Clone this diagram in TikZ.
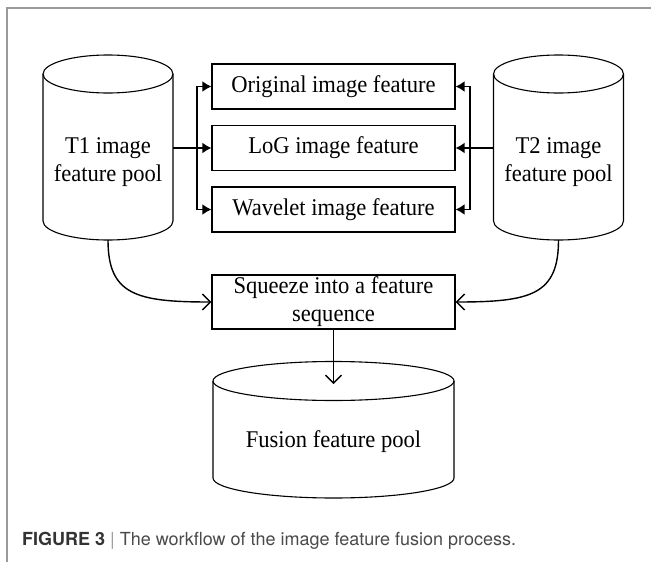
\documentclass[tikz,border=0pt]{standalone}
\usepackage{fontspec}
\setmainfont[FakeStretch=0.94]{Liberation Serif}
\newfontfamily\capfont{TeX Gyre Heros}
\usetikzlibrary{arrows.meta,calc}
\definecolor{capdark}{HTML}{333333}
\definecolor{captext}{HTML}{4A4A4A}
\definecolor{framegray}{HTML}{9A9A9A}
\begin{document}
\begin{tikzpicture}[x=1pt,y=-1pt,
  txt/.style={font=\fontsize{24}{28}\selectfont, align=center, inner sep=0pt},
  box/.style={txt, draw, line width=1.1pt, minimum width=243pt, minimum height=45pt},
  cyl/.style={line width=1.1pt},
  bus/.style={line width=1.8pt},
  farrow/.style={bus, -{Latex[length=9pt,width=11pt]}},
  barb/.style={line width=1.4pt, -{Straight Barb[length=8pt,width=16pt]}},
  frameline/.style={draw=framegray, line width=1.5pt}]

\useasboundingbox (0,0) rectangle (651,562);

% frame
\draw[frameline] (651,8) -- (7,8) -- (7,562);

% T1 cylinder
\draw[cyl] (43,74) -- (43,221) arc[start angle=180,end angle=360,x radius=65pt,y radius=19pt] -- (173,74);
\draw[cyl] (108,74) ellipse [x radius=65pt, y radius=19pt];
\node[txt] (t1) at (108,162) {T1 image\\feature pool};
\coordinate (t1e) at (173,148);
\coordinate (t1b) at (108,240);
\coordinate (bl) at (197,148);

% T2 cylinder
\draw[cyl] (493.5,74) -- (493.5,221) arc[start angle=180,end angle=360,x radius=65pt,y radius=19pt] -- (623.5,74);
\draw[cyl] (558.5,74) ellipse [x radius=65pt, y radius=19pt];
\node[txt] (t2) at (558.5,162) {T2 image\\feature pool};
\coordinate (t2w) at (493.5,148);
\coordinate (t2b) at (558.5,240);
\coordinate (br) at (470,148);

% boxes
\node[box] (orig) at (333.5,86.5) {Original image feature};
\node[box] (log)  at (333.5,148) {LoG image feature};
\node[box] (wave) at (333.5,209.5) {Wavelet image feature};
\node[box, minimum height=54pt] (sq) at (333.5,302) {Squeeze into a feature\\sequence};

% fusion cylinder
\draw[cyl] (213,381) -- (213,478) arc[start angle=180,end angle=360,x radius=120.5pt,y radius=20pt] -- (454,381);
\draw[cyl] (333.5,381) ellipse [x radius=120.5pt, y radius=19.5pt];
\node[txt] (fus) at (333.5,442) {Fusion feature pool};
\coordinate (fusin) at (333.5,384);

% left bus
\draw[bus] (t1e) -- (bl);
\draw[farrow] (bl) |- (orig.west);
\draw[farrow] (bl) -- (log.west);
\draw[farrow] (bl) |- (wave.west);

% right bus
\draw[bus] (t2w) -- (br);
\draw[farrow] (br) |- (orig.east);
\draw[farrow] (br) -- (log.east);
\draw[farrow] (br) |- (wave.east);

% curves to squeeze
\draw[barb] (t1b) .. controls ($(t1b)+(0,55)$) and ($(sq.west)+(-75,0)$) .. (sq.west);
\draw[barb] (t2b) .. controls ($(t2b)+(0,55)$) and ($(sq.east)+(75,0)$) .. (sq.east);

% squeeze to fusion
\draw[barb] (sq.south) -- (fusin);

% caption
\node[anchor=base west, inner sep=0pt, font=\capfont\fontsize{18}{22}\selectfont] (cap) at (22,545)
  {\textcolor{capdark}{\bfseries FIGURE 3}\ \textcolor{framegray}{|}\ \textcolor{captext}{The workflow of the image feature fusion process.}};
\end{tikzpicture}
\end{document}
